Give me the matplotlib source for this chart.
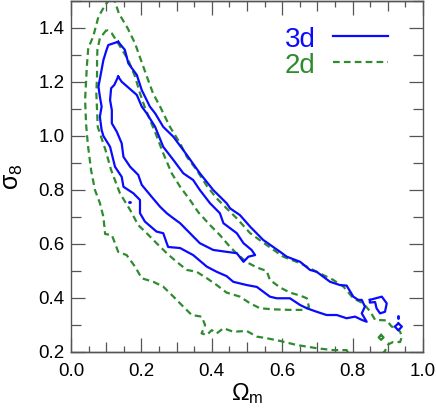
import matplotlib
matplotlib.use('Agg')
import matplotlib.pyplot as plt
import numpy as np
from matplotlib.ticker import FixedLocator, FormatStrFormatter, NullFormatter

plt.rcParams['font.family'] = ['Liberation Sans', 'DejaVu Sans']
plt.rcParams['mathtext.fontset'] = 'custom'
plt.rcParams['mathtext.rm'] = 'Liberation Sans'
plt.rcParams['mathtext.it'] = 'Liberation Sans:italic'
plt.rcParams['mathtext.bf'] = 'Liberation Sans:bold'

# ---------------- data (Omega_m, sigma_8) ----------------
# 3d, inner contour
b1_x = [0.134, 0.123, 0.114, 0.111, 0.116, 0.116, 0.130, 0.144, 0.149, 0.168, 0.191, 0.201,
        0.229, 0.253, 0.272, 0.290, 0.310, 0.338, 0.366, 0.404, 0.442, 0.471, 0.490, 0.504,
        0.523, 0.513, 0.490, 0.471, 0.433, 0.423, 0.395, 0.366, 0.347, 0.319, 0.291, 0.262,
        0.239, 0.215, 0.201, 0.187, 0.144]
b1_y = [1.220, 1.189, 1.177, 1.133, 1.096, 1.047, 1.016, 0.973, 0.923, 0.886, 0.856, 0.819,
        0.775, 0.738, 0.714, 0.696, 0.677, 0.640, 0.603, 0.578, 0.571, 0.566, 0.534, 0.553,
        0.559, 0.578, 0.603, 0.640, 0.677, 0.714, 0.751, 0.800, 0.837, 0.862, 0.911, 0.960,
        1.034, 1.084, 1.109, 1.152, 1.201]

# 3d, outer contour
b2_x = [0.134, 0.106, 0.101, 0.092, 0.085, 0.078, 0.082, 0.087, 0.082, 0.087, 0.092, 0.111,
        0.125, 0.144, 0.149, 0.177, 0.196, 0.196, 0.210, 0.243, 0.262, 0.272, 0.276, 0.310,
        0.347, 0.386, 0.414, 0.442, 0.461, 0.499, 0.528, 0.565, 0.584, 0.622, 0.651, 0.670,
        0.698, 0.726, 0.755, 0.783, 0.807, 0.826, 0.840, 0.826, 0.835, 0.826, 0.816, 0.802,
        0.783, 0.764, 0.736, 0.698, 0.679, 0.651, 0.613, 0.594, 0.546, 0.509, 0.480, 0.452,
        0.442, 0.404, 0.366, 0.329, 0.291, 0.262, 0.239, 0.224, 0.215, 0.201, 0.187, 0.163,
        0.153]
b2_y = [1.349, 1.337, 1.319, 1.281, 1.232, 1.183, 1.146, 1.109, 1.071, 1.022, 1.000, 0.960,
        0.886, 0.849, 0.812, 0.788, 0.763, 0.714, 0.683, 0.646, 0.640, 0.603, 0.589, 0.585,
        0.559, 0.516, 0.497, 0.481, 0.460, 0.448, 0.441, 0.405, 0.399, 0.399, 0.374, 0.362,
        0.349, 0.337, 0.337, 0.325, 0.331, 0.319, 0.312, 0.343, 0.368, 0.393, 0.393, 0.405,
        0.446, 0.448, 0.460, 0.497, 0.504, 0.534, 0.553, 0.571, 0.615, 0.664, 0.707, 0.732,
        0.751, 0.800, 0.862, 0.930, 0.997, 1.034, 1.084, 1.109, 1.133, 1.170, 1.226, 1.269,
        1.319]

# 3d, small islands near the right end
b3_x = [0.849, 0.883, 0.897, 0.892, 0.878, 0.868, 0.864, 0.849]
b3_y = [0.393, 0.405, 0.380, 0.349, 0.343, 0.362, 0.385, 0.383]
b4_x = [0.930, 0.940, 0.930, 0.920]
b4_y = [0.306, 0.294, 0.280, 0.294]
b5_x = [0.928, 0.928]
b5_y = [0.334, 0.326]
b6_x = [0.164, 0.167]
b6_y = [0.757, 0.757]

# 2d, inner contour
g1_x = [0.101, 0.082, 0.075, 0.074, 0.074, 0.072, 0.076, 0.098, 0.114, 0.139, 0.168, 0.191,
        0.215, 0.243, 0.272, 0.300, 0.329, 0.357, 0.386, 0.414, 0.442, 0.480, 0.509, 0.537,
        0.575, 0.622, 0.660, 0.676, 0.670, 0.651, 0.622, 0.594, 0.565, 0.556, 0.528, 0.499,
        0.472, 0.452, 0.423, 0.395, 0.362, 0.338, 0.310, 0.286, 0.262, 0.240, 0.222, 0.209,
        0.196, 0.182, 0.163, 0.134, 0.116]
g1_y = [1.393, 1.362, 1.319, 1.281, 1.226, 1.158, 1.034, 0.948, 0.874, 0.788, 0.726, 0.670,
        0.640, 0.603, 0.566, 0.534, 0.504, 0.497, 0.473, 0.448, 0.420, 0.405, 0.380, 0.362,
        0.358, 0.356, 0.356, 0.367, 0.399, 0.409, 0.420, 0.439, 0.467, 0.500, 0.513, 0.533,
        0.563, 0.589, 0.633, 0.670, 0.717, 0.763, 0.812, 0.862, 0.936, 1.011, 1.067, 1.109,
        1.158, 1.220, 1.281, 1.343, 1.380]

# 2d, outer contour
g2_x = [0.111, 0.097, 0.078, 0.063, 0.049, 0.045, 0.040, 0.043, 0.048, 0.057, 0.068, 0.082,
        0.092, 0.097, 0.116, 0.125, 0.134, 0.158, 0.182, 0.201, 0.234, 0.262, 0.291, 0.319,
        0.343, 0.371, 0.381, 0.371, 0.386, 0.400, 0.414, 0.433, 0.461, 0.499, 0.528, 0.556,
        0.594, 0.641, 0.698, 0.744, 0.783, 0.793, 0.878, 0.892, 0.901, 0.915, 0.935, 0.940,
        0.935, 0.923, 0.911, 0.897, 0.864, 0.849, 0.830, 0.802, 0.774, 0.745, 0.698, 0.651,
        0.603, 0.556, 0.509, 0.471, 0.442, 0.414, 0.386, 0.357, 0.329, 0.310, 0.281, 0.253,
        0.233, 0.217, 0.199, 0.182, 0.161, 0.136, 0.125, 0.119]
g2_y = [1.507, 1.485, 1.442, 1.368, 1.326, 1.257, 1.133, 1.041, 0.967, 0.874, 0.800, 0.752,
        0.701, 0.637, 0.633, 0.603, 0.571, 0.559, 0.516, 0.473, 0.460, 0.442, 0.405, 0.368,
        0.337, 0.331, 0.300, 0.269, 0.263, 0.281, 0.269, 0.288, 0.275, 0.278, 0.257, 0.251,
        0.241, 0.226, 0.214, 0.207, 0.207, 0.185, 0.185, 0.204, 0.228, 0.237, 0.237, 0.257,
        0.275, 0.291, 0.294, 0.317, 0.319, 0.352, 0.380, 0.399, 0.442, 0.467, 0.497, 0.529,
        0.553, 0.596, 0.640, 0.695, 0.732, 0.769, 0.815, 0.874, 0.923, 0.973, 1.034, 1.109,
        1.158, 1.215, 1.280, 1.343, 1.399, 1.454, 1.497, 1.507]

# 2d, tiny ring near the right end
g3_x = [0.881, 0.888, 0.881, 0.874]
g3_y = [0.263, 0.254, 0.245, 0.254]

x_major = [0.0, 0.2, 0.4, 0.6, 0.8, 1.0]
x_mid = [0.1, 0.3, 0.5, 0.7, 0.9]
x_fine = [0.05, 0.15, 0.25, 0.35, 0.45, 0.55, 0.65, 0.75, 0.85, 0.95]
y_major = [0.2, 0.4, 0.6, 0.8, 1.0, 1.2, 1.4]
y_mid = [0.3, 0.5, 0.7, 0.9, 1.1, 1.3, 1.5]

labels = ['3d', '2d']

# ---------------- style ----------------
BLUE = '#0a0aff'
GREEN = '#2e8b2e'
TICKC = '#555555'
LW = 1.6
DASH = (0, (3.0, 1.9))


def closed(xs, ys):
    return list(xs) + [xs[0]], list(ys) + [ys[0]]


fig = plt.figure(figsize=(4.36, 4.13), dpi=100)
ax = fig.add_axes([71 / 436, 61 / 413, 352 / 436, 351 / 413])

for xs, ys in [(g1_x, g1_y), (g2_x, g2_y)]:
    cx, cy = closed(xs, ys)
    ax.plot(cx, cy, color=GREEN, lw=LW, ls=DASH)
cx, cy = closed(g3_x, g3_y)
ax.plot(cx, cy, color=GREEN, lw=LW)

for xs, ys in [(b1_x, b1_y), (b2_x, b2_y), (b3_x, b3_y), (b4_x, b4_y)]:
    cx, cy = closed(xs, ys)
    ax.plot(cx, cy, color=BLUE, lw=LW)
for xs, ys in [(b5_x, b5_y), (b6_x, b6_y)]:
    ax.plot(xs, ys, color=BLUE, lw=LW * 1.3, solid_capstyle='round')

ax.set_xlim(0.0, 1.0)
ax.set_ylim(0.2, 1.5)

ax.xaxis.set_major_locator(FixedLocator(x_major))
ax.xaxis.set_minor_locator(FixedLocator(x_mid))
ax.yaxis.set_major_locator(FixedLocator(y_major))
ax.yaxis.set_minor_locator(FixedLocator(y_mid))
ax.xaxis.set_major_formatter(FormatStrFormatter('%.1f'))
ax.yaxis.set_major_formatter(FormatStrFormatter('%.1f'))

ax.tick_params(which='both', direction='in', top=True, right=True, color=TICKC, width=0.9)
ax.tick_params(which='major', length=10.0, labelsize=13.5)
ax.tick_params(which='minor', length=7.0)
ax.tick_params(axis='x', which='major', pad=8)
ax.tick_params(axis='y', which='major', pad=4.5)

for loc in ['bottom', 'top']:
    sec = ax.secondary_xaxis(loc)
    sec.xaxis.set_major_locator(FixedLocator(x_fine))
    sec.xaxis.set_major_formatter(NullFormatter())
    sec.tick_params(direction='in', length=4.6, width=0.9, color=TICKC)
    for s in sec.spines.values():
        s.set_color(TICKC)
        s.set_linewidth(1.0)

for s in ax.spines.values():
    s.set_color(TICKC)
    s.set_linewidth(1.0)

ax.set_xlabel(r'$\Omega_{\rm m}$', fontsize=17, labelpad=1)
ax.set_ylabel(r'$\mathrm{\sigma}_{8}$', fontsize=18, labelpad=10)

# legend (label left of line)
ax.text(0.608, 0.869, labels[0], transform=ax.transAxes, color=BLUE, fontsize=20,
        ha='left', va='baseline')
ax.text(0.608, 0.795, labels[1], transform=ax.transAxes, color=GREEN, fontsize=20,
        ha='left', va='baseline')
ax.plot([0.744, 0.901], [0.900, 0.900], transform=ax.transAxes, color=BLUE, lw=LW)
ax.plot([0.744, 0.901], [0.826, 0.826], transform=ax.transAxes, color=GREEN, lw=LW, ls=DASH)

fig.savefig('out.png', dpi=100)
